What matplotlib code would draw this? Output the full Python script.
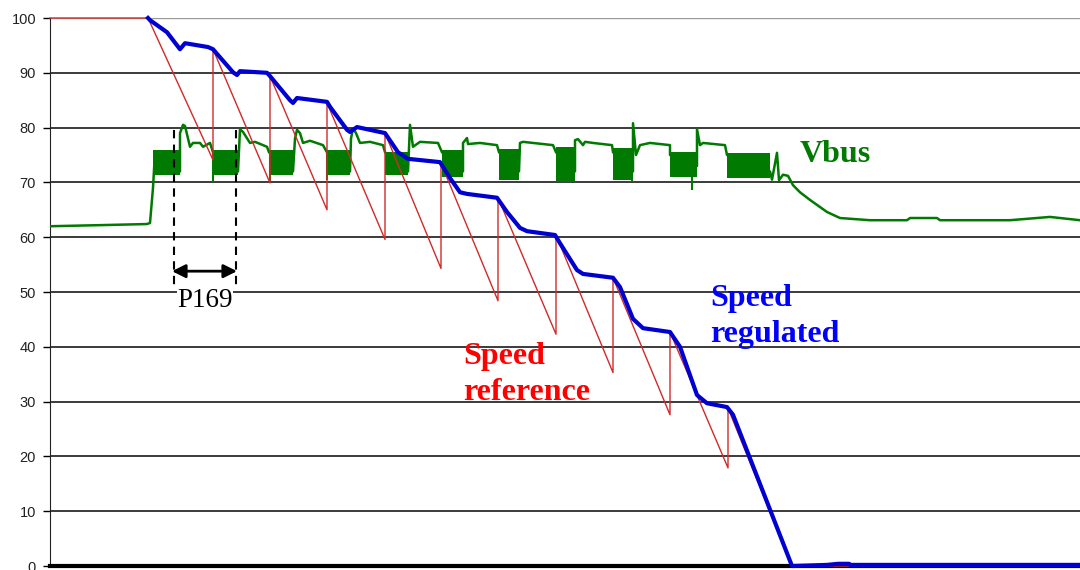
import numpy as np
import matplotlib
matplotlib.use('Agg')
import matplotlib.pyplot as plt

# values, x in samples, y in %
yticks = [0, 10, 20, 30, 40, 50, 60, 70, 80, 90, 100]

speed_ref = [(0, 100), (98, 100), (163, 74.1), (163, 94.3), (220, 69.9), (220, 89.4),
             (277, 65.0), (277, 84.5), (335, 59.6), (335, 79.0), (391, 54.3), (391, 73.5),
             (448, 48.4), (448, 67.2), (506, 42.3), (506, 60.4), (563, 35.3), (563, 52.6),
             (620, 27.6), (620, 42.7), (678, 17.9), (678, 28.8), (742, 0), (1030, 0)]

speed_reg = [(98, 100.0), (100, 99.6), (107, 98.7), (117, 97.4), (130, 94.3), (135, 95.4),
             (158, 94.7), (163, 94.3), (183, 90.1), (187, 89.6), (190, 90.3), (217, 90.0),
             (220, 89.4), (240, 85.0), (243, 84.5), (247, 85.4), (277, 84.7), (280, 83.8),
             (297, 79.6), (300, 79.2), (307, 80.1), (335, 79.0), (348, 75.5), (358, 74.3),
             (390, 73.7), (400, 70.8), (410, 68.2), (417, 67.9), (447, 67.2), (457, 64.6),
             (470, 61.7), (477, 61.1), (505, 60.4), (510, 58.9), (527, 54.0), (533, 53.3),
             (563, 52.6), (570, 50.9), (583, 45.1), (593, 43.4), (620, 42.7), (630, 40.0),
             (647, 31.2), (657, 29.7), (677, 29.0), (683, 27.6), (742, 0.0), (777, 0.2),
             (788, 0.4), (799, 0.4), (800, 0.2), (1030, 0.2)]

vbus = [(0, 62.0), (50, 62.2), (97, 62.4), (100, 62.6), (103, 69.0), (105, 75.5), (130, 72.0),
        (130, 79.0), (133, 80.5), (135, 80.3), (140, 76.5), (143, 77.2), (150, 77.2), (153, 76.5),
        (160, 77.2), (163, 75.5), (188, 72.0), (190, 79.7), (193, 79.2), (200, 77.2), (205, 77.4),
        (217, 76.5), (219, 75.5), (243, 72.0), (245, 78.0), (247, 79.6), (250, 79.0), (253, 77.2),
        (260, 77.6), (273, 76.8), (277, 75.5), (300, 72.0), (301, 78.0), (303, 79.9), (306, 79.0),
        (310, 77.2), (320, 77.4), (333, 76.8), (335, 75.5), (358, 72.0), (360, 80.5), (363, 76.5),
        (370, 77.4), (388, 77.2), (392, 75.5), (413, 72.0), (413, 77.2), (417, 78.1), (418, 77.0),
        (430, 77.2), (447, 76.8), (449, 75.5), (469, 72.0), (470, 77.2), (473, 77.4), (503, 76.8),
        (506, 75.5), (525, 72.0), (525, 77.7), (528, 77.9), (533, 76.8), (535, 77.4), (543, 77.2),
        (562, 76.8), (563, 75.5), (583, 72.0), (583, 80.8), (586, 75.0), (590, 76.8), (600, 77.2),
        (620, 76.8), (620, 75.0), (647, 73.0), (647, 79.7), (650, 76.8), (653, 77.2), (675, 76.8),
        (677, 75.0), (720, 72.0), (722, 70.5), (727, 75.4), (729, 70.4), (733, 71.4), (738, 71.2),
        (743, 69.5), (750, 68.2), (760, 66.8), (777, 64.6), (790, 63.5), (820, 63.1), (857, 63.1),
        (860, 63.5), (887, 63.5), (890, 63.1), (960, 63.1), (1000, 63.7), (1030, 63.1)]

# ripple bands of Vbus: start, end, low, high
ripple = [(103, 130, 71.4, 75.9), (163, 188, 71.4, 75.9), (219, 243, 71.4, 75.9),
          (277, 300, 71.4, 75.9), (335, 358, 71.4, 75.5), (392, 413, 71.0, 75.9),
          (449, 469, 70.4, 76.1), (506, 525, 70.0, 76.5), (563, 583, 70.4, 76.3),
          (620, 647, 71.0, 75.5), (677, 720, 70.8, 75.4)]
spikes = [(163, 70.0, 75.9), (220, 70.0, 75.9), (277, 70.5, 75.9), (582, 70.0, 76.3),
          (642, 68.6, 75.5)]

period_x = [124, 186]
period_top = 79.6
period_bottom = 50.4
arrow_y = 53.8

GREEN = '#007a00'
BLUE = '#0000d0'
RED = '#d02a2a'

fig = plt.figure(figsize=(10.8, 5.7), dpi=100)
ax = fig.add_axes([50 / 1080, 4 / 570, 1030 / 1080, 548 / 570])

for x0, x1, lo, hi in ripple:
    ax.fill_between([x0, x1], [lo, lo], [hi, hi], color=GREEN, lw=0, zorder=3)
for x, lo, hi in spikes:
    ax.vlines(x, lo, hi, color=GREEN, lw=1.5, zorder=3)
v = np.array(vbus).T
ax.plot(v[0], v[1], color=GREEN, lw=1.8, zorder=3)

r = np.array(speed_ref).T
ax.plot(r[0], r[1], color=RED, lw=1.0, zorder=4, clip_on=False)
b = np.array(speed_reg).T
ax.plot(b[0], b[1], color=BLUE, lw=3, zorder=5, clip_on=False)

# P169 period marker
for x in period_x:
    ax.plot([x, x], [period_top, period_bottom], color='black', lw=1.5,
            ls=(0, (4, 3)), zorder=6)
ax.annotate('', xy=(period_x[1] + 1, arrow_y), xytext=(period_x[0] - 2, arrow_y),
            arrowprops=dict(arrowstyle='<|-|>', color='black', lw=2,
                            mutation_scale=20, shrinkA=0, shrinkB=0), zorder=6)
ax.text(127, 47.3, 'P169', family='Liberation Serif', fontsize=19.5, va='baseline',
        bbox=dict(facecolor='white', edgecolor='none', pad=0), zorder=6)

serif = dict(family='Liberation Serif', fontsize=23, fontweight='bold', va='baseline')
ax.text(750, 73.7, 'Vbus', color=GREEN, **serif)
ax.text(660, 47.4, 'Speed', color='#0000ff', **serif)
ax.text(660, 40.9, 'regulated', color='#0000ff', **serif)
ax.text(413, 36.9, 'Speed', color='#ff0000', **serif)
ax.text(413, 30.3, 'reference', color='#ff0000', **serif)

ax.set_xlim(0, 1030)
ax.set_ylim(0, 100)
ax.set_xticks([])
ax.set_yticks(yticks)
ax.set_yticklabels([str(t) for t in yticks], family='Liberation Sans', fontsize=10.5,
                   color='#222222')
ax.tick_params(axis='y', direction='out', length=5, width=1, pad=5)
for t in yticks[1:-1]:
    ax.axhline(t, color='#1a1a1a', lw=1.2, zorder=1)
ax.axhline(100, color='#9a9a9a', lw=1.0, zorder=1)

ax.spines['top'].set_visible(False)
ax.spines['right'].set_visible(False)
ax.spines['left'].set_color('#222222')
ax.spines['bottom'].set_linewidth(3)
ax.spines['bottom'].set_color('black')

fig.savefig('out.png', dpi=100)
